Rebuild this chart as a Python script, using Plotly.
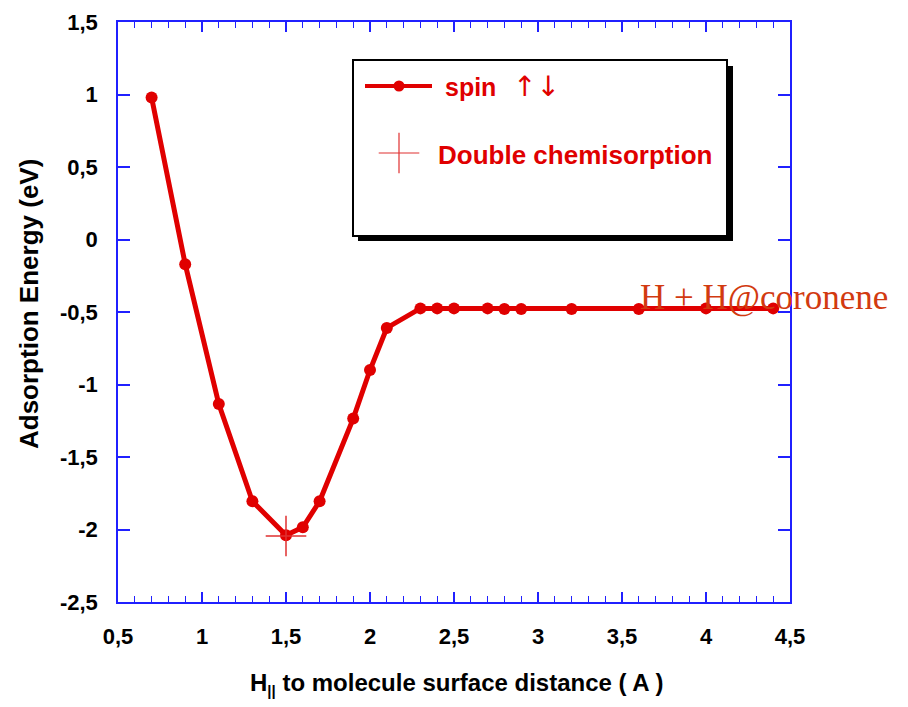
import plotly.graph_objects as go

# distance (Å) and adsorption energy (eV)
distance = [0.7, 0.9, 1.1, 1.3, 1.5, 1.6, 1.7, 1.9, 2.0, 2.1, 2.3, 2.4, 2.5,
            2.7, 2.8, 2.9, 3.2, 3.6, 4.0, 4.4]
energy = [0.98, -0.17, -1.135, -1.805, -2.04, -1.985, -1.805, -1.235, -0.90,
          -0.61, -0.475, -0.475, -0.475, -0.475, -0.48, -0.48, -0.48, -0.48,
          -0.475, -0.475]

chem_x = [1.5]
chem_y = [-2.045]

x_ticks = [0.5, 1, 1.5, 2, 2.5, 3, 3.5, 4, 4.5]
x_labels = ["0,5", "1", "1,5", "2", "2,5", "3", "3,5", "4", "4,5"]
y_ticks = [-2.5, -2, -1.5, -1, -0.5, 0, 0.5, 1, 1.5]
y_labels = ["-2,5", "-2", "-1,5", "-1", "-0,5", "0", "0,5", "1", "1,5"]

RED = "#e00000"
BLUE = "#2020ff"
FONT = "Liberation Sans, Arial, sans-serif"

# plot area in page pixels (page body has an 8px offset)
PL, PT, PW, PH = 110, 14, 672, 580
FW, FH = 892, 691


def px(x):
    return (x - 118) / PW


def py(y):
    return (602 - y) / PH


fig = go.Figure()
fig.add_trace(go.Scatter(
    x=distance, y=energy, mode="lines+markers",
    line=dict(color=RED, width=5),
    marker=dict(color=RED, size=12),
    showlegend=False, cliponaxis=False))
fig.add_trace(go.Scatter(
    x=chem_x, y=chem_y, mode="markers",
    marker=dict(symbol="cross-thin", size=29,
                line=dict(color="#e03030", width=1.5)),
    showlegend=False, cliponaxis=False))

axis_common = dict(
    showline=True, linecolor=BLUE, linewidth=1.5, mirror="ticks",
    ticks="inside", tickcolor=BLUE, tickwidth=1.5,
    showgrid=False, zeroline=False, automargin=False,
    tickfont=dict(family=FONT, size=22, color="black", weight="bold"),
)

fig.update_xaxes(
    range=[0.5, 4.5], tickvals=x_ticks, ticktext=x_labels, ticklen=10,
    minor=dict(ticks="inside", ticklen=6, dtick=0.1, tickcolor=BLUE, tickwidth=1.2),
    ticklabelstandoff=14,
    **axis_common)
fig.update_yaxes(
    range=[-2.5, 1.5], tickvals=y_ticks, ticktext=y_labels, ticklen=12,
    ticklabelstandoff=14,
    **axis_common)

# axis titles
fig.add_annotation(x=px(456), y=py(684), xref="paper", yref="paper",
                   text="H<sub><span style='font-size:15px'>||</span></sub> to molecule surface distance ( A )",
                   showarrow=False, xanchor="center", yanchor="middle",
                   font=dict(family=FONT, size=24, color="black", weight="bold"))
fig.add_annotation(x=px(29), y=py(304), xref="paper", yref="paper",
                   text="Adsorption Energy (eV)", textangle=-90,
                   showarrow=False, xanchor="center", yanchor="middle",
                   font=dict(family=FONT, size=26, color="black", weight="bold"))

# legend box with shadow (paper coords)
shapes = [
    dict(type="rect", xref="paper", yref="paper", x0=px(358), x1=px(733),
         y0=py(241), y1=py(66), fillcolor="black", line=dict(width=0), layer="below"),
    dict(type="rect", xref="paper", yref="paper", x0=px(353), x1=px(727),
         y0=py(236), y1=py(60), fillcolor="white",
         line=dict(color="black", width=2), layer="below"),
]
fig.update_layout(shapes=shapes)

# legend symbols
fig.add_trace(go.Scatter(
    x=[px(365), px(432)], y=[py(86)] * 2, xaxis="x2", yaxis="y2",
    mode="lines", line=dict(color=RED, width=4), showlegend=False, hoverinfo="skip"))
fig.add_trace(go.Scatter(
    x=[px(399)], y=[py(86)], xaxis="x2", yaxis="y2",
    mode="markers", marker=dict(color=RED, size=11), showlegend=False, hoverinfo="skip"))
fig.add_trace(go.Scatter(
    x=[px(399)], y=[py(153)], xaxis="x2", yaxis="y2",
    mode="markers", marker=dict(symbol="cross-thin", size=29, line=dict(color="#e03030", width=1.2)),
    showlegend=False, hoverinfo="skip"))
fig.update_layout(
    xaxis2=dict(overlaying="x", range=[0, 1], visible=False, anchor="y2"),
    yaxis2=dict(overlaying="y", range=[0, 1], visible=False, anchor="x2"),
)

fig.add_annotation(x=px(443), y=py(87), xref="paper", yref="paper",
                   text="spin", showarrow=False, xanchor="left", yanchor="middle",
                   font=dict(family=FONT, size=25, color=RED, weight="bold"))
fig.add_annotation(x=px(511), y=py(86), xref="paper", yref="paper",
                   text="↑↓", showarrow=False, xanchor="left", yanchor="middle",
                   font=dict(family="DejaVu Sans, sans-serif", size=28, color=RED))
fig.add_annotation(x=px(436), y=py(155), xref="paper", yref="paper",
                   text="Double chemisorption", showarrow=False, xanchor="left", yanchor="middle",
                   font=dict(family=FONT, size=26, color=RED, weight="bold"))
fig.add_annotation(x=3.595, y=-0.4, xref="x", yref="y",
                   text="H + H@coronene", showarrow=False, xanchor="left", yanchor="middle",
                   font=dict(family="Liberation Serif, Times New Roman, serif", size=35,
                             color="#d23a10"))

fig.update_layout(
    width=FW, height=FH,
    margin=dict(l=PL, r=FW - PL - PW, t=PT, b=FH - PT - PH),
    paper_bgcolor="white", plot_bgcolor="white",
    showlegend=False,
)

fig.write_html("out.html")
